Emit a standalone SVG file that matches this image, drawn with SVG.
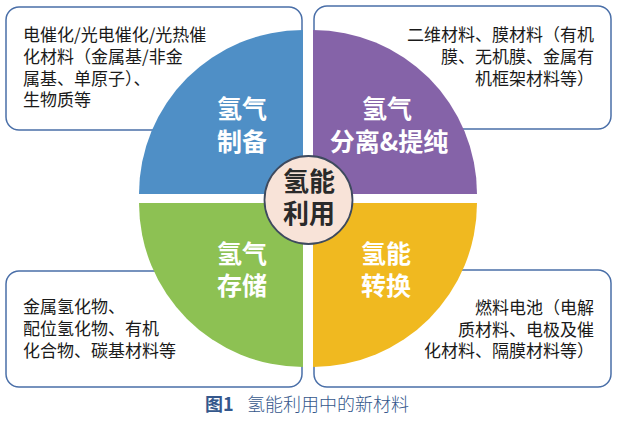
<svg xmlns="http://www.w3.org/2000/svg" width="617" height="424" viewBox="0 0 617 424">
<style>
.box{fill:#fff;stroke:#4a6fa8;stroke-width:1.5}
.desc{font-family:"Noto Sans CJK SC","Noto Sans",sans-serif;font-size:17px;fill:#1a1a1a}
.lab{font-family:"Noto Sans CJK SC","Noto Sans",sans-serif;font-size:25px;font-weight:bold;fill:#fff;text-anchor:middle}
.ctr{font-family:"Noto Sans CJK SC","Noto Sans",sans-serif;font-size:26px;font-weight:bold;fill:#2a2a2a;text-anchor:middle}
.end{text-anchor:end}
</style>
<rect width="617" height="424" fill="#fff"/>
<g id="box-prep"><rect class="box" x="6" y="7" width="296" height="123" rx="13"/>
<text class="desc" x="23"><tspan x="23" y="41">电催化/光电催化/光热催</tspan><tspan x="23" y="63">化材料（金属基/非金</tspan><tspan x="23" y="85">属基、单原子）、</tspan><tspan x="23" y="106">生物质等</tspan></text></g>
<g id="box-sep"><rect class="box" x="314" y="6" width="297" height="123" rx="13"/>
<text class="desc end"><tspan x="594" y="41">二维材料、膜材料（有机</tspan><tspan x="594" y="63">膜、无机膜、金属有</tspan><tspan x="594" y="85">机框架材料等）</tspan></text></g>
<g id="box-store"><rect class="box" x="6" y="271" width="296" height="116" rx="13"/>
<text class="desc"><tspan x="23" y="313">金属氢化物、</tspan><tspan x="23" y="335">配位氢化物、有机</tspan><tspan x="23" y="357">化合物、碳基材料等</tspan></text></g>
<g id="box-conv"><rect class="box" x="314" y="270" width="297" height="117" rx="13"/>
<text class="desc end"><tspan x="594" y="314">燃料电池（电解</tspan><tspan x="594" y="336">质材料、电极及催</tspan><tspan x="594" y="357">化材料、隔膜材料等）</tspan></text></g>
<g id="connectors"></g>
<g id="q-prep"><path d="M303,194 L139,194 A164,164 0 0 1 303,30 Z" fill="#4f8fc6"/>
<text class="lab"><tspan x="242" y="118">氢气</tspan><tspan x="242" y="151">制备</tspan></text></g>
<g id="q-sep"><path d="M313,194 L313,30 A164,164 0 0 1 477,194 Z" fill="#8563a8"/>
<text class="lab"><tspan x="387" y="118">氢气</tspan><tspan x="389" y="151">分离&amp;提纯</tspan></text></g>
<g id="q-store"><path d="M303,203 L303,367 A164,164 0 0 1 139,203 Z" fill="#8dc153"/>
<text class="lab"><tspan x="242" y="263">氢气</tspan><tspan x="242" y="295">存储</tspan></text></g>
<g id="q-conv"><path d="M313,203 L477,203 A164,164 0 0 1 313,367 Z" fill="#f0b920"/>
<text class="lab"><tspan x="386" y="263">氢能</tspan><tspan x="386" y="295">转换</tspan></text></g>
<g id="center"><circle cx="308.5" cy="200" r="44" fill="#f8e3d8" stroke="#3e4a5e" stroke-width="1.8"/>
<text class="ctr"><tspan x="309" y="191">氢能</tspan><tspan x="309" y="223">利用</tspan></text></g>
<g id="caption"><text x="205" y="411" font-family="'Noto Sans CJK SC','Noto Sans',sans-serif" font-size="18" fill="#34578c"><tspan font-weight="bold">图1</tspan><tspan x="247" font-weight="300">氢能利用中的新材料</tspan></text></g>
</svg>
